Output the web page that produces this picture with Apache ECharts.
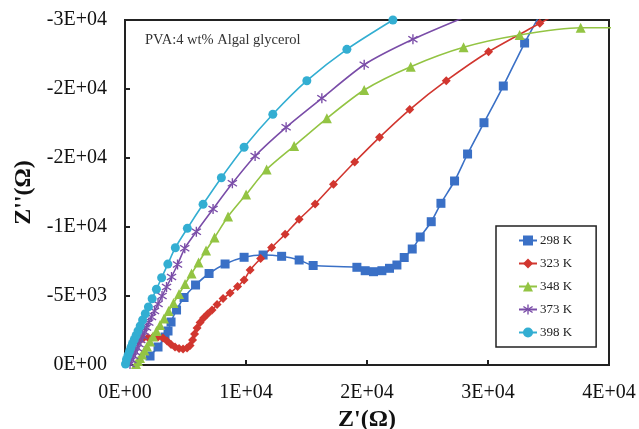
<!DOCTYPE html>
<html>
<head>
<meta charset="utf-8">
<script src="https://cdn.jsdelivr.net/npm/echarts@6/dist/echarts.min.js"></script>
<style>
html,body{margin:0;padding:0;background:#fff;}
#chart{width:639px;height:429px;}
</style>
</head>
<body>
<div id="chart"></div>
<script>
// Z' (ohm) and Z'' (ohm)
var seriesNames = ['298 K', '323 K', '348 K', '373 K', '398 K'];

var zre298 = [2068,2729,3308,3556,3805,4260,4880,5831,6948,8271,9843,11414,12944,14392,15550,19164,19850,20537,21232,21860,22472,23076,23738,24399,25309,26111,27236,28311,29668,31264,33026,34738];
var zim298 = [-652,-1304,-2029,-2464,-3116,-3986,-4891,-5797,-6630,-7319,-7805,-7971,-7876,-7608,-7210,-7080,-6833,-6761,-6833,-7007,-7246,-7789,-8405,-9275,-10383,-11717,-13333,-15289,-17557,-20216,-23332,-26086];

var zre323 = [1075,1489,1902,2316,2729,3143,3474,3805,4135,4466,4797,5128,5376,5583,5748,5955,6203,6493,6823,7196,7609,8106,8685,9305,9842,10339,11207,12117,13233,14392,15715,17229,18982,21033,23531,26550,30049,34283,35979];
var zim323 = [-1739,-1920,-1993,-2029,-2029,-1956,-1739,-1485,-1304,-1196,-1159,-1232,-1413,-1812,-2246,-2681,-3080,-3406,-3695,-3985,-4384,-4819,-5217,-5688,-6159,-6884,-7717,-8514,-9471,-10557,-11666,-13094,-14709,-16499,-18513,-20600,-22702,-24760,-25578];

var zre348 = [910,1075,1241,1406,1613,1820,2068,2316,2605,2895,3226,3598,4011,4466,4962,5500,6079,6700,7403,8519,10008,11703,13978,16683,19768,23614,27981,32613,37658,43000];
var zim348 = [-72,-290,-507,-761,-1051,-1341,-1703,-2065,-2464,-2899,-3369,-3913,-4493,-5145,-5869,-6630,-7427,-8297,-9239,-10760,-12354,-14166,-15869,-17876,-19927,-21615,-23021,-23912,-24441,-24420];

var zre373 = [414,562,711,860,1009,1158,1307,1456,1613,1778,1968,2192,2440,2729,3060,3433,3846,4342,4938,5897,7278,8874,10752,13316,16269,19768,23796,28700];
var zim373 = [-72,-362,-652,-942,-1232,-1522,-1812,-2101,-2391,-2717,-3080,-3478,-3913,-4420,-5000,-5652,-6376,-7282,-8456,-9659,-11304,-13166,-15144,-17224,-19325,-21757,-23600,-25434];

var zre398 = [41,124,248,372,496,620,769,918,1075,1257,1456,1679,1935,2241,2597,3027,3540,4160,5153,6451,7965,9842,12216,15028,18337,22141];
var zim398 = [-72,-399,-688,-978,-1268,-1558,-1848,-2138,-2464,-2826,-3261,-3717,-4210,-4804,-5493,-6319,-7311,-8500,-9905,-11644,-13572,-15775,-18166,-20600,-22876,-24999];

var xTickValues = [0, 10000, 20000, 30000, 40000];
var xTickLabels = ['0E+00', '1E+04', '2E+04', '3E+04', '4E+04'];
var yTickValues = [0, -5000, -10000, -15000, -20000, -25000];
var yTickLabels = ['0E+00', '-5E+03', '-1E+04', '-2E+04', '-2E+04', '-3E+04'];

var annotation = 'PVA:4 wt% Algal glycerol';

function pairs(xs, ys) {
  return xs.map(function (x, i) { return [x, ys[i]]; });
}
function lookup(vals, labels, v) {
  for (var i = 0; i < vals.length; i++) if (Math.abs(vals[i] - v) < 1e-6) return labels[i];
  return '';
}

var asterisk = 'path://M4.4 0 L5.6 0 L5.6 10 L4.4 10 Z M0.64 2.48 L1.36 1.52 L9.36 7.52 L8.64 8.48 Z M0.64 7.52 L1.36 8.48 L9.36 2.48 L8.64 1.52 Z';

var colors = ['#3A70C6', '#D1362F', '#93C443', '#7A4DA8', '#33AED2'];
var symbols = ['rect', 'diamond', 'triangle', asterisk, 'circle'];
var sizes = [9, 9, 10, 10, 9];
var dataSets = [pairs(zre298, zim298), pairs(zre323, zim323), pairs(zre348, zim348), pairs(zre373, zim373), pairs(zre398, zim398)];

var serif = '"Liberation Serif", "Times New Roman", serif';

var chart = echarts.init(document.getElementById('chart'), null, { renderer: 'canvas' });
chart.setOption({
  animation: false,
  backgroundColor: '#fff',
  grid: {
    left: 125, top: 20, right: 30, bottom: 64,
    show: true, borderColor: '#222', borderWidth: 2,
    containLabel: false,
    outerBoundsMode: 'none'
  },
  legend: {
    orient: 'vertical',
    left: 496, top: 226,
    padding: [8, 24, 8, 22],
    itemGap: 10,
    itemWidth: 18,
    itemHeight: 12.5,
    borderColor: '#222', borderWidth: 1.5,
    backgroundColor: '#fff',
    textStyle: { fontFamily: serif, fontSize: 13, color: '#222', padding: [0, 0, 0, -2] },
    data: seriesNames
  },
  graphic: [{
    type: 'text', left: 145, top: 33,
    style: { text: annotation, font: '14.5px ' + serif, fill: '#333' }
  }],
  xAxis: {
    type: 'value', min: 0, max: 40000, interval: 10000,
    name: "Z'(\u03A9)", nameLocation: 'middle', nameGap: 41,
    nameTextStyle: { fontFamily: serif, fontSize: 24, fontWeight: 'bold', color: '#111' },
    axisLine: { show: true, lineStyle: { color: '#222', width: 2 } },
    axisTick: { show: true, inside: true, length: 5, lineStyle: { color: '#222', width: 2 } },
    axisLabel: {
      margin: 18, fontFamily: serif, fontSize: 20, color: '#111',
      formatter: function (v) { return lookup(xTickValues, xTickLabels, v); }
    },
    splitLine: { show: false }
  },
  yAxis: {
    type: 'value', min: -25000, max: 0, interval: 5000, inverse: true,
    name: "Z''(\u03A9)", nameLocation: 'middle', nameGap: 88, nameRotate: 90,
    nameTextStyle: { fontFamily: serif, fontSize: 24, fontWeight: 'bold', color: '#111' },
    axisLine: { show: true, lineStyle: { color: '#222', width: 2 } },
    axisTick: { show: true, inside: true, length: 5, lineStyle: { color: '#222', width: 2 } },
    axisLabel: {
      margin: 18, fontFamily: serif, fontSize: 20, color: '#111',
      formatter: function (v) { return lookup(yTickValues, yTickLabels, v); }
    },
    splitLine: { show: false }
  },
  series: seriesNames.map(function (name, i) {
    return {
      name: name, type: 'line', data: dataSets[i],
      smooth: 0.25, clip: true,
      symbol: symbols[i], symbolSize: sizes[i], showSymbol: true,
      itemStyle: { color: colors[i] },
      lineStyle: { color: colors[i], width: 1.6 },
      emphasis: { disabled: true }
    };
  })
});
</script>
</body>
</html>
